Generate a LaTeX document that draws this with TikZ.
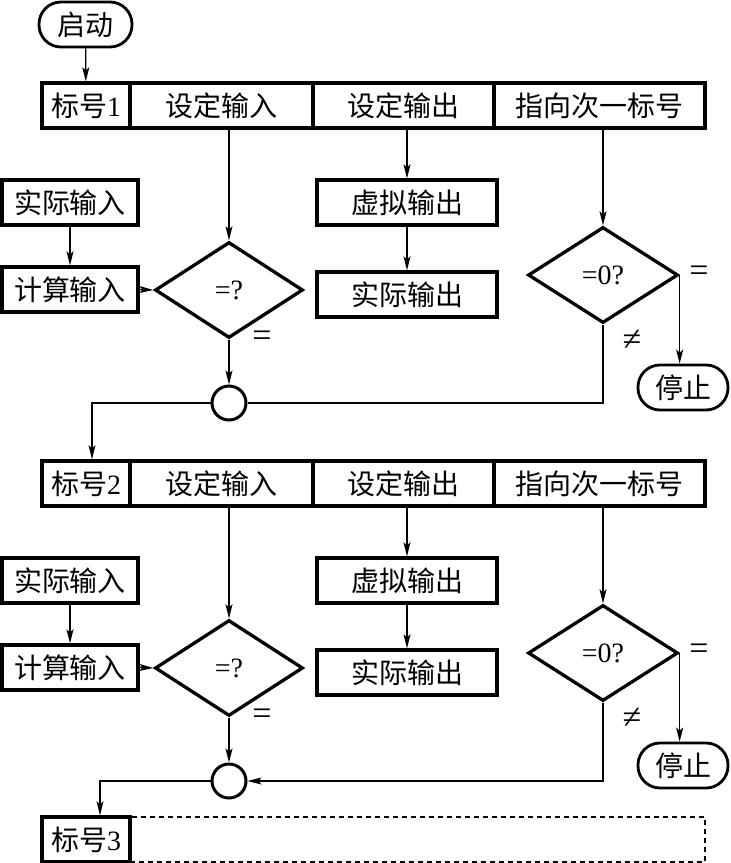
\documentclass[tikz,border=0pt]{standalone}
\usepackage{fontspec}
\setmainfont{Liberation Serif}
\newfontfamily\cjk{Noto Sans CJK SC}
\usetikzlibrary{shapes.geometric, arrows.meta}

\newcommand{\zh}[1]{{\cjk #1}}

\begin{document}
\begin{tikzpicture}[x=1pt, y=-1pt, >={Stealth[length=14pt, width=7pt, inset=3pt]}, line width=1.3pt,
	font=\fontsize{28}{32}\selectfont,
	box/.style={draw, line width=3.3pt, inner sep=0pt, minimum height=45pt},
	test/.style={draw, diamond, line width=3.3pt, inner sep=0pt, minimum height=96pt},
	term/.style={draw, line width=2.8pt, rounded corners=22pt, inner sep=0pt, minimum height=45pt},
	joint/.style={draw, circle, line width=3pt, minimum size=34pt, inner sep=0pt},
	mark label/.style={font=\fontsize{34}{36}\selectfont, inner sep=0pt}]
			
			\useasboundingbox (0,0) rectangle (731,863);
			
			% === START ===
			\node[term, minimum width=93pt] (start) at (85.5, 24.5) {\zh{启动}};
			
			% === SECTIONS 1 AND 2 ===
			\foreach \s/\dy/\tip in {1/0/-, 2/378/->} {
				\begin{scope}[yshift=-\dy pt]
					% Row of cells
					\node[box, minimum width=88pt] (row\s-label) at (86, 105.5) {\zh{标号}\s};
					\node[box, minimum width=183pt] (row\s-in) at (221.5, 105.5) {\zh{设定输入}};
					\node[box, minimum width=181pt] (row\s-out) at (403.5, 105.5) {\zh{设定输出}};
					\node[box, minimum width=211pt] (row\s-next) at (599.5, 105.5) {\zh{指向次一标号}};
					
					% Input branch
					\node[box, minimum width=136pt] (actin\s) at (70, 202.5) {\zh{实际输入}};
					\node[box, minimum width=136pt] (calcin\s) at (70, 289.5) {\zh{计算输入}};
					\node[test, minimum width=148pt] (cmp\s) at (229, 290) {=?};
					\node[mark label] (eq\s) at (262, 339) {=};
					\node[joint] (join\s) at (229, 403) {};
					
					% Output branch
					\node[box, minimum width=180pt] (virtout\s) at (407, 202.5) {\zh{虚拟输出}};
					\node[box, minimum width=180pt] (actout\s) at (407, 294.5) {\zh{实际输出}};
					
					% Next-label branch
					\node[test, minimum width=150pt] (zero\s) at (603, 275) {=0?};
					\node[term, minimum width=90pt] (stop\s) at (683, 387.5) {\zh{停止}};
					\node[mark label] (zeq\s) at (699, 274) {=};
					\node[mark label] (zne\s) at (632, 340) {≠};
					
					\draw[->] (row\s-in.south -| cmp\s.north) -- (cmp\s.north);
					\draw[->] (actin\s) -- (calcin\s);
					\draw[->] (calcin\s.east) -- (cmp\s.west);
					\draw[->] (cmp\s) -- (join\s);
					\draw[->] (row\s-out.south -| virtout\s.north) -- (virtout\s.north);
					\draw[->] (virtout\s) -- (actout\s);
					\draw[->] (row\s-next.south -| zero\s.north) -- (zero\s.north);
					\draw[->] (zero\s.east) -- (zero\s.east |- stop\s.north);
					\draw[\tip] (zero\s.south) |- (join\s.east);
				\end{scope}
			}
			
			% === ROW 3 ===
			\node[draw, dash pattern=on 5pt off 4pt, line width=2pt, minimum width=575pt, minimum height=45pt] (row3-rest) at (417.5, 839.5) {};
			\node[box, minimum width=88pt] (row3-label) at (86, 839.5) {\zh{标号}3};
			
			% === CONNECTORS ===
			\draw[->] (start) -- (row1-label);
			\draw[->] (join1.west) -| ([xshift=6pt]row2-label.north);
			\draw[->] (join2.west) -| ([xshift=14pt]row3-label.north);
			
\end{tikzpicture}
\end{document}
